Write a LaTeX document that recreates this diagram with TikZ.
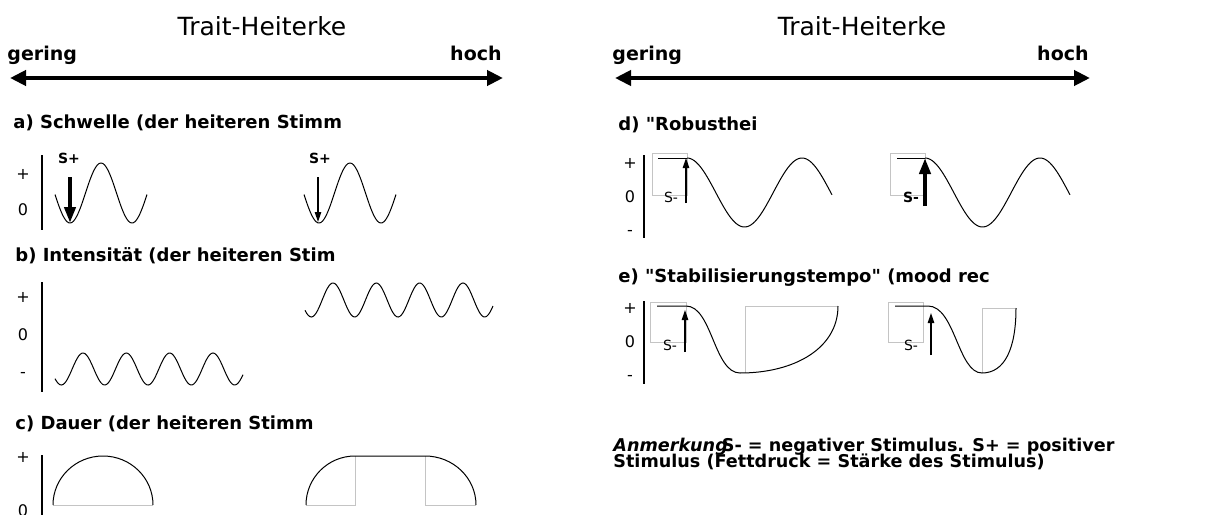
\documentclass[tikz,border=0pt]{standalone}
\usepackage{fontspec}
\setmainfont{DejaVu Sans}
\usetikzlibrary{arrows.meta,positioning,calc}
\definecolor{guidegray}{HTML}{C4C4C4}

\begin{document}
\begin{tikzpicture}[
  x=0.5pt,y=-0.5pt,
  heading/.style={font=\fontsize{12.5}{14}\selectfont,anchor=base,inner sep=0pt},
  pole/.style={font=\fontsize{9.5}{11}\selectfont\bfseries,inner sep=0pt},
  panel/.style={font=\fontsize{9}{11}\selectfont\bfseries,anchor=base west,inner sep=0pt},
  tick/.style={font=\fontsize{8}{10}\selectfont,inner sep=0pt},
  stimtxt/.style={font=\fontsize{7}{8}\selectfont,inner sep=0pt},
  stimbf/.style={font=\fontsize{7}{8}\selectfont\bfseries,inner sep=0pt},
  note/.style={font=\fontsize{8.8}{10}\selectfont\bfseries,anchor=base west,inner sep=0pt},
  trait/.style={{Triangle[length=8pt,width=7.5pt]}-{Triangle[length=8pt,width=7.5pt]},line width=2pt},
  yaxis/.style={line width=1.4pt},
  wave/.style={line width=0.5pt},
  guide/.style={draw=guidegray,line width=0.5pt},
  stim/.style={-{Triangle[length=5pt,width=3.2pt]},line width=0.6pt},
  stimbold/.style={-{Triangle[length=8pt,width=5.5pt]},line width=2.4pt}
]
\useasboundingbox (0,0) rectangle (1226,514);
% trait scale, twice
\foreach \s/\xa/\xb/\xt in {L/10/503/262,R/615/1090/862}{
  \coordinate (lo\s) at (\xa,78);
  \coordinate (hi\s) at (\xb,78);
  \draw[trait] (lo\s) -- (hi\s);
  \node[heading] (title\s) at (\xt,35) {Trait-Heiterke};
  \node[pole,anchor=base west] (ger\s) at ($(lo\s)+(-3,-17)$) {gering};
  \node[pole,anchor=base east] (hoch\s) at ($(hi\s)+(-1,-17)$) {hoch};
}
% panel titles
\node[panel] (pa) at (13,128) {a) Schwelle (der heiteren Stimm};
\node[panel] (pb) at (15,261) {b) Intensität (der heiteren Stim};
\node[panel] (pc) at (15,429) {c) Dauer (der heiteren Stimm};
\node[panel] (pd) at (618,130) {d) \textquotedbl Robusthei};
\node[panel] (pe) at (618,282) {e) \textquotedbl Stabilisierungstempo\textquotedbl{} (mood rec};
% y axes
\foreach \n/\x/\ya/\yb in {A/42/155/230,B/42/282/392,C/42/455/520,D/644/155/238,E/644/301/384}
  \draw[yaxis] (\x,\ya) coordinate (top\n) -- (\x,\yb) coordinate (bot\n);
\foreach \n/\x/\y/\t in {A1/23/174/+,A2/23/210/0,B1/23/297/+,B2/23/335/0,B3/23/375/-,
  C1/23/457/+,C2/23/511/0,D1/630/163/+,D2/630/197/0,D3/630/233/-,E1/630/308/+,E2/630/342/0,E3/630/378/-}
  \node[tick] (tk\n) at (\x,\y) {\t};

% a) threshold
\draw[wave] plot[domain=55:147,samples=60] (\x,{193-30*cos(5.8065*(\x-101))});
\draw[wave] plot[domain=304:396,samples=60] (\x,{193-30*cos(5.8065*(\x-350))});
\node[stimbf] (spA1) at (69,158) {S+};
\node[stimbf] (spA2) at (320,158) {S+};
\coordinate (sA1) at (70,177); \coordinate (tA1) at (70,223);
\coordinate (sA2) at (318,177); \coordinate (tA2) at (318,222);
\draw[stimbold] (sA1) -- (tA1);
\draw[stim] (sA2) -- (tA2);

% b) intensity
\draw[wave] plot[domain=55:243,samples=120] (\x,{369-16*cos(8.308*(\x-83))});
\draw[wave] plot[domain=305:493,samples=120] (\x,{300-17*cos(8.308*(\x-333))});

% c) duration
\draw[guide] (53,505) -- (153,505);
\draw[wave] (53,505) arc[start angle=180,end angle=0,x radius=25pt,y radius=24.5pt];
\draw[guide] (306,505) -- (355,505) -- (355,456);
\draw[guide] (425,456) -- (425,505) -- (476,505);
\draw[wave] (306,505) arc[start angle=180,end angle=90,radius=24.5pt] -- (425,456)
  arc[start angle=90,end angle=0,x radius=25.5pt,y radius=24.5pt];

% d) robustness
\draw[guide] (652,153) rectangle (687,195);
\draw[wave] (658,158) -- (687,158);
\draw[wave] plot[domain=687:832,samples=80] (\x,{192.5-34.5*cos(3.1304*(\x-687))});
\draw[guide] (890,153) rectangle (925,195);
\draw[wave] (897,158) -- (925,158);
\draw[wave] plot[domain=925:1070,samples=80] (\x,{192.5-34.5*cos(3.1304*(\x-925))});
\node[stimtxt] (snD1) at (671,197) {S-};
\node[stimbf] (snD2) at (911,197) {S-};
\coordinate (sD1) at (686,203); \coordinate (tD1) at (686,158);
\coordinate (sD2) at (925,206); \coordinate (tD2) at (925,158);
\draw[stim] (sD1) -- (tD1);
\draw[stimbold] (sD2) -- (tD2);

% e) recovery speed
\draw[guide] (650,302) rectangle (686,342);
\draw[guide] (745,373) -- (745,306) -- (838,306);
\draw[wave] (657,306) -- (686,306) .. controls (712,306) and (714,373) .. (740,373)
  .. controls (795,373) and (838,348) .. (838,306);
\draw[guide] (888,302) rectangle (923,342);
\draw[guide] (982,373) -- (982,308) -- (1016,308);
\draw[wave] (895,306) -- (928,306) .. controls (955,306) and (958,373) .. (982,373)
  .. controls (1005,373) and (1016,348) .. (1016,308);
\node[stimtxt] (snE1) at (670,345) {S-};
\node[stimtxt] (snE2) at (911,345) {S-};
\coordinate (sE1) at (685,352); \coordinate (tE1) at (685,310);
\coordinate (sE2) at (931,355); \coordinate (tE2) at (931,313);
\draw[stim] (sE1) -- (tE1);
\draw[stim] (sE2) -- (tE2);

% note
\node[note] (note1) at (613,451) {\textit{Anmerkung}\kern-3pt S- = negativer Stimulus. S+ = positiver};
\node[note] (note2) at (613,467) {Stimulus (Fettdruck = Stärke des Stimulus)};
\end{tikzpicture}
\end{document}
